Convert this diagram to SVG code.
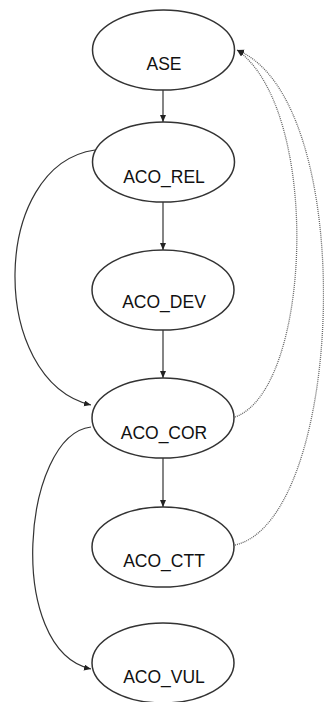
<svg xmlns="http://www.w3.org/2000/svg" width="324" height="702" viewBox="0 0 324 702">
<style>
.node ellipse{fill:#fff;stroke:#333;stroke-width:1.5}
.node text{font-family:"Liberation Sans",Arial,sans-serif;font-size:17.5px;fill:#111;text-anchor:middle}
.edge{fill:none;stroke:#333;stroke-width:1.2}
.dot{fill:none;stroke:#666;stroke-width:1.3;stroke-dasharray:1 1}
</style>
<defs>
<marker id="arr" markerUnits="userSpaceOnUse" markerWidth="8" markerHeight="8" refX="7" refY="3" orient="auto">
<path d="M0,0 L7,3 L0,6 z" fill="#222"/>
</marker>
</defs>
<rect width="324" height="702" fill="#fff"/>
<g id="connectors">
<path class="edge" d="M163,90 L163,122" marker-end="url(#arr)"/>
<path class="edge" d="M163,202 L163,250" marker-end="url(#arr)"/>
<path class="edge" d="M163,330 L163,378" marker-end="url(#arr)"/>
<path class="edge" d="M163,458 L163,507" marker-end="url(#arr)"/>
<path class="edge" d="M95,150 C-10,165 -12,380 91,405" marker-end="url(#arr)"/>
<path class="edge" d="M91,427 C22,435 5,650 91,669" marker-end="url(#arr)"/>
<path class="dot" d="M235,417 C312,390 322,110 237,50" marker-end="url(#arr)"/>
<path class="dot" d="M235,545 C345,520 360,100 237,50" marker-end="url(#arr)"/>
</g>
<g id="ASE" class="node"><ellipse cx="163.5" cy="50" rx="71" ry="40"/><text x="164" y="70">ASE</text></g>
<g id="ACO_REL" class="node"><ellipse cx="163.5" cy="162" rx="71" ry="40"/><text x="164" y="183">ACO_REL</text></g>
<g id="ACO_DEV" class="node"><ellipse cx="163" cy="290" rx="71" ry="40"/><text x="164" y="308">ACO_DEV</text></g>
<g id="ACO_COR" class="node"><ellipse cx="163" cy="418" rx="71" ry="40"/><text x="164" y="439">ACO_COR</text></g>
<g id="ACO_CTT" class="node"><ellipse cx="163" cy="547" rx="71" ry="40"/><text x="164" y="567">ACO_CTT</text></g>
<g id="ACO_VUL" class="node"><ellipse cx="163" cy="663" rx="71" ry="40"/><text x="164" y="683">ACO_VUL</text></g>
</svg>
